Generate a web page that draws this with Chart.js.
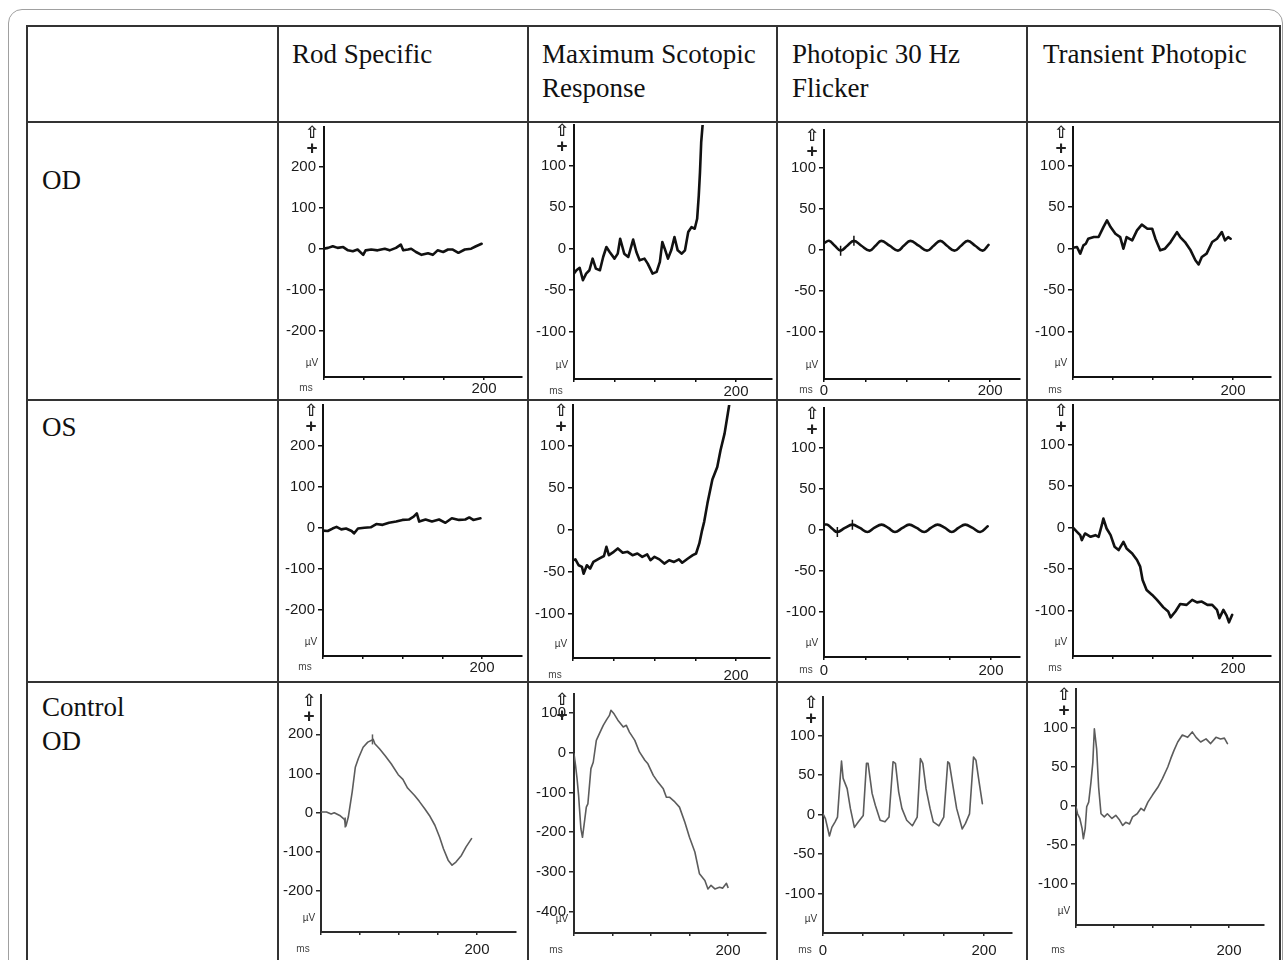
<!DOCTYPE html>
<html><head><meta charset="utf-8">
<script src="https://cdn.jsdelivr.net/npm/chart.js@4.4.1/dist/chart.umd.min.js"></script>
<style>
html,body{margin:0;padding:0;background:#fff}
body{width:1288px;height:960px;position:relative;overflow:hidden}
#frame{position:absolute;left:8px;top:9px;width:1275px;height:1000px;border:1.5px solid #a0a0a0;border-radius:14px;box-sizing:border-box}
.ln{position:absolute;background:#333}
.lbl{position:absolute;font-family:"Liberation Serif","Times New Roman",serif;font-size:27px;line-height:34px;color:#111;white-space:nowrap}
canvas{position:absolute}
</style></head><body>
<div id="frame"></div>
<div class="ln" style="left:27px;top:25px;width:1254px;height:2px"></div>
<div class="ln" style="left:27px;top:121px;width:1254px;height:2px"></div>
<div class="ln" style="left:27px;top:399px;width:1254px;height:2px"></div>
<div class="ln" style="left:27px;top:681px;width:1254px;height:2px"></div>
<div class="ln" style="left:26px;top:25px;width:2px;height:935px"></div>
<div class="ln" style="left:277px;top:25px;width:2px;height:935px"></div>
<div class="ln" style="left:527px;top:25px;width:2px;height:935px"></div>
<div class="ln" style="left:776px;top:25px;width:2px;height:935px"></div>
<div class="ln" style="left:1026px;top:25px;width:2px;height:935px"></div>
<div class="ln" style="left:1279px;top:25px;width:2px;height:935px"></div>

<div class="lbl" style="left:292px;top:37px">Rod Specific</div>
<div class="lbl" style="left:542px;top:37px">Maximum Scotopic<br>Response</div>
<div class="lbl" style="left:792px;top:37px">Photopic 30 Hz<br>Flicker</div>
<div class="lbl" style="left:1043px;top:37px">Transient Photopic</div>
<div class="lbl" style="left:42px;top:163px">OD</div>
<div class="lbl" style="left:42px;top:410px">OS</div>
<div class="lbl" style="left:42px;top:690px">Control<br>OD</div>

<script>
// ---------- data (time in ms, amplitude in µV) ----------
const xTicks = [0, 50, 100, 150, 200];
const rodTicks = [-200, -100, 0, 100, 200];
const smallTicks = [-100, -50, 0, 50, 100];
const bigNegTicks = [-400, -300, -200, -100, 0, 100];

const rodOD_t = [0,5,11,17,24,30,36,42,49,52,59,67,76,82,90,96,99,105,109,115,122,130,136,142,149,155,161,168,176,184,190,197];
const rodOD_v = [0,2,6,2,4,-4,-6,-2,-15,-4,-2,-4,0,-4,2,10,-4,-2,0,-8,-15,-11,-15,-4,-8,-2,-2,-10,-2,0,6,12];

const scotOD_t = [0,3,7,11,15,19,23,27,32,36,40,44,50,54,57,62,67,73,77,81,87,91,97,102,106,109,112,116,120,124,128,133,137,141,145,149,152,154,155.5,157,159,162];
const scotOD_v = [-30,-26,-23,-38,-30,-26,-12,-24,-26,-10,2,-4,-12,-6,12,-6,-10,11,-4,-14,-12,-18,-30,-28,-16,8,0,-12,-2,14,-2,-6,-2,20,26,24,36,64,92,128,152,200];

const flickOD_t = [0,6,13,20,28,36,45,55,62,69,79,89,96,104,114,124,132,140,148,157,165,173,182,191,198];
const flickOD_v = [8,11,5,-1,5,11,5,-1,5,11,5,-1,5,11,5,-1,5,11,5,-1,5,11,5,-1,6];
const flickOD_mark_t = [20, 36];
const flickOD_mark_v = [-1, 11];

const transOD_t = [0,5,9,13,16,19,26,32,38,42.5,47,53,59,63,67,74,80,86,93,99,103,109,115,122,130,134,140,147,153,157,161,167,174,180,186,190,194,197];
const transOD_v = [1,2,-6,4,6,12,14,14,26,34,26,18,14,0,14,10,22,29,24,24,12,-2,0,8,20,14,8,-2,-14,-19,-10,-6,8,12,20,10,14,12];

const rodOS_t = [0,6,12,17,23,29,36,39,44,52,60,67,75,83,92,100,108,114,118,121,129,137,146,154,162,171,179,184,189,198];
const rodOS_v = [-7,-8,-2,2,-4,-2,-8,-14,-2,0,1,9,7,12,15,19,20,27,35,15,20,15,20,12,23,19,20,25,19,23];

const scotOS_t = [0,3,7,11,13,17,21,25,32,38,41,44,50,55,61,67,73,79,85,91,95,100,106,112,118,124,130,134,141,147,151,155,158,161,165,171,177,181,186,190,192,195];
const scotOS_v = [-36,-35,-42,-44,-52,-42,-46,-38,-34,-31,-20,-30,-26,-22,-27,-26,-30,-28,-32,-29,-36,-32,-35,-40,-36,-38,-35,-39,-34,-30,-28,-16,-2,10,32,60,75,95,115,139,151,170];

const flickOS_t = [0,4,10,16,25,34,43,52,60,69,77,85,94,102,111,120,128,136,145,153,161,169,178,187,196];
const flickOS_v = [6,6,1,-3,2,6,2,-3,2,6,2,-3,2,6,2,-3,2,6,2,-3,2,6,2,-3,4];
const flickOS_mark_t = [16, 34];
const flickOS_mark_v = [-3, 6];

const transOS_t = [0,5,9,11,15,22,28,32,36,38,42,47,52,57,63,67,74,80,84,87,92,99,105,113,119,122,128,134,142,149,155,161,168,174,180,183,188,192,195,199];
const transOS_v = [0,-5,-9,-15,-7,-11,-9,-11,3,11,-1,-9,-23,-27,-17,-25,-31,-39,-47,-63,-75,-81,-87,-96,-101,-108,-101,-92,-93,-87,-90,-89,-93,-93,-99,-109,-99,-106,-114,-105];

const rodCtl_t = [0,7,13,17,24,30,32,35,40,44,48,54,60,67,69,75,82,90,99,105,111,120,126,133,139,146,152,157,163,168,173,180,186,193];
const rodCtl_v = [2,2,-3,0,-7,-17,-34,-11,53,116,139,167,180,187,176,163,146,125,97,85,63,44,29,10,-7,-32,-62,-92,-121,-134,-126,-109,-87,-66];
const rodCtl_mark_t = [31, 66];
const rodCtl_mark_v = [-25, 187];

const scotCtl_t = [0,2,4,6,7,9,11,13,16,18,22,25,29,33,38,42,46,48,52,57,64,68,72,79,85,92,96,103,109,116,120,124,131,137,144,150,157,163,170,174,178,183,189,193,198,200];
const scotCtl_v = [-3,-32,-66,-108,-137,-192,-213,-183,-137,-129,-40,-24,31,48,69,82,94,107,98,82,65,69,52,31,2,-19,-28,-57,-74,-91,-112,-112,-124,-137,-175,-213,-250,-305,-322,-343,-334,-343,-339,-341,-329,-339];

const flickCtl_t = [0,3,6,8,11,15,18,21,23,25,30,34,39,44,50,54,56,61,65,71,77,82,87,90,94,98,104,111,117,121,124,128,133,137,144,150,155,157,162,166,173,177,182,187,190,194,198];
const flickCtl_v = [1,-5,-18,-27,-16,-9,-3,41,68,46,33,8,-16,-9,-1,65,65,27,12,-7,-9,-3,67,65,29,8,-7,-14,-3,71,65,33,8,-9,-14,-3,67,65,33,8,-18,-11,1,73,69,41,14];

const transCtl_t = [0,2,5,8,9.6,12,14,16.6,19.6,22,24,27,29.6,32.7,37,41,47,52,57,61,65,70,74,80,85,89,94,100,107,113,120,124,128,133,139,146,152,157,163,170,176,183,189,194,198];
const transCtl_v = [-1,-10,-16,-29,-42,-29,-1,5,31,56,99,73,24,-10,-14,-10,-16,-12,-18,-25,-21,-23,-14,-10,-3,-6,5,14,24,35,50,61,71,82,91,88,95,88,82,86,80,88,86,87,80];

// ---------- layout (page pixels) ----------
const COLS = [278, 528, 777, 1027, 1280];
const ROWS = [122, 400, 682, 960];

const panels = [
  {c:0,r:0,t:rodOD_t,v:rodOD_v,ax:[324,127,522,377],y:[-312.9,296.8],xMax:247.5,yt:rodTicks,xPad:0},
  {c:1,r:0,t:scotOD_t,v:scotOD_v,ax:[574,125,772,379],y:[-157,149],xMax:244.4,yt:smallTicks,xPad:1},
  {c:2,r:0,t:flickOD_t,v:flickOD_v,mt:flickOD_mark_t,mv:flickOD_mark_v,ax:[824,126,1024,379],y:[-157.8,147],xMax:235.3,yt:smallTicks,xPad:0,zero:true,smooth:true},
  {c:3,r:0,t:transOD_t,v:transOD_v,ax:[1073,127,1271,377],y:[-154.6,146.6],xMax:247.5,yt:smallTicks,xPad:2},
  {c:0,r:1,t:rodOS_t,v:rodOS_v,ax:[323,405,522,656],y:[-312.9,299.3],xMax:250.3,yt:rodTicks,xPad:0},
  {c:1,r:1,t:scotOS_t,v:scotOS_v,ax:[573,405,770,658],y:[-152.4,148.8],xMax:241.7,yt:smallTicks,xPad:6},
  {c:2,r:1,t:flickOS_t,v:flickOS_v,mt:flickOS_mark_t,mv:flickOS_mark_v,ax:[824,405,1023,657],y:[-155.1,148.6],xMax:234.1,yt:smallTicks,xPad:2,zero:true,smooth:true},
  {c:3,r:1,t:transOS_t,v:transOS_v,ax:[1073,405,1271,656],y:[-154.6,147.8],xMax:247.5,yt:smallTicks,xPad:1},
  {c:0,r:2,t:rodCtl_t,v:rodCtl_v,mt:rodCtl_mark_t,mv:rodCtl_mark_v,ax:[321,695,516,932],y:[-304.3,300.3],xMax:250,yt:rodTicks,xPad:6,ctl:true},
  {c:1,r:2,t:scotCtl_t,v:scotCtl_v,ax:[574,694,766,933],y:[-454,147.9],xMax:249.4,yt:bigNegTicks,xPad:6,ctl:true},
  {c:2,r:2,t:flickCtl_t,v:flickCtl_v,ax:[823,697,1012,933],y:[-149.7,149],xMax:234.8,yt:smallTicks,xPad:6,zero:true,ctl:true},
  {c:3,r:2,t:transCtl_t,v:transCtl_v,ax:[1076,689,1264,925],y:[-152.6,150],xMax:245.8,yt:smallTicks,xPad:14,ctl:true}
];

const decor = {
  id: 'decor',
  afterDraw(chart, args, o) {
    const ctx = chart.ctx, a = chart.chartArea;
    ctx.save();
    ctx.textAlign = 'center';
    ctx.textBaseline = 'middle';
    ctx.fillStyle = '#222';
    ctx.font = 'bold 17px "DejaVu Sans"';
    ctx.fillText('\u21E7', a.left - 12, a.top + 7);
    ctx.font = 'bold 19px "Liberation Sans"';
    ctx.fillText('+', a.left - 12, a.top + 22);
    ctx.fillStyle = '#333';
    ctx.font = '10px "Liberation Sans"';
    ctx.fillText('\u00B5V', a.left - 12, a.bottom - 14);
    ctx.fillStyle = '#444';
    ctx.fillText('ms', a.left - 18, a.bottom + o.msGap);
    ctx.restore();
  }
};

panels.forEach(p => {
  const cx = COLS[p.c] + 1, cy = ROWS[p.r] + 1;
  const cw = COLS[p.c + 1] - COLS[p.c] - 2, ch = ROWS[p.r + 1] - ROWS[p.r] - 2;
  const cv = document.createElement('canvas');
  cv.width = cw; cv.height = ch;
  cv.style.left = cx + 'px'; cv.style.top = cy + 'px';
  cv.style.width = cw + 'px'; cv.style.height = ch + 'px';
  document.body.appendChild(cv);
  const [L, T, R, B] = p.ax;
  const yW = L - cx, padT = T - cy, padR = cx + cw - R, xH = cy + ch - B;
  const axisColor = p.ctl ? '#2a2a2a' : '#111';
  const lineColor = p.ctl ? '#5c5c5c' : '#111';
  const lw = p.ctl ? 1.6 : 2.6;
  const datasets = [{
    data: p.t.map((x, i) => ({x: x, y: p.v[i]})),
    borderColor: lineColor, borderWidth: lw, pointRadius: 0,
    tension: p.smooth ? 0.4 : 0, borderJoinStyle: 'round', borderCapStyle: 'round', fill: false
  }];
  if (p.mt) {
    datasets.push({
      data: p.mt.map((x, i) => ({x: x, y: p.mv[i]})),
      showLine: false, pointStyle: 'line', rotation: 90, pointRadius: 5,
      borderColor: lineColor, borderWidth: 1.5, backgroundColor: lineColor
    });
  }
  new Chart(cv, {
    type: 'line',
    data: {datasets},
    options: {
      animation: false, responsive: false, devicePixelRatio: 1, events: [],
      layout: {padding: {left: 0, top: padT, right: padR, bottom: 0}},
      plugins: {legend: {display: false}, tooltip: {enabled: false}, decor: {msGap: 11 + p.xPad}},
      scales: {
        x: {
          type: 'linear', min: 0, max: p.xMax,
          afterBuildTicks: s => { s.ticks = xTicks.map(v => ({value: v})); },
          afterFit: s => { s.height = xH; s.paddingLeft = 0; s.paddingRight = 0; },
          ticks: {autoSkip: false, maxRotation: 0, color: '#1a1a1a', padding: p.xPad,
                  font: {family: 'Liberation Sans', size: 15},
                  callback: v => (v === 200 || (v === 0 && p.zero)) ? String(v) : ''},
          grid: {drawOnChartArea: false, tickLength: 3, color: axisColor, lineWidth: 1.5},
          border: {display: true, color: axisColor, width: 2}
        },
        y: {
          type: 'linear', min: p.y[0], max: p.y[1],
          afterBuildTicks: s => { s.ticks = p.yt.map(v => ({value: v})); },
          afterFit: s => { s.width = yW; s.paddingTop = 0; s.paddingBottom = 0; },
          ticks: {color: '#1a1a1a', padding: 3, font: {family: 'Liberation Sans', size: 15},
                  callback: v => String(v)},
          grid: {drawOnChartArea: false, tickLength: 5, color: axisColor, lineWidth: 1.5},
          border: {display: true, color: axisColor, width: 2}
        }
      }
    },
    plugins: [decor]
  });
});
</script>
</body></html>
